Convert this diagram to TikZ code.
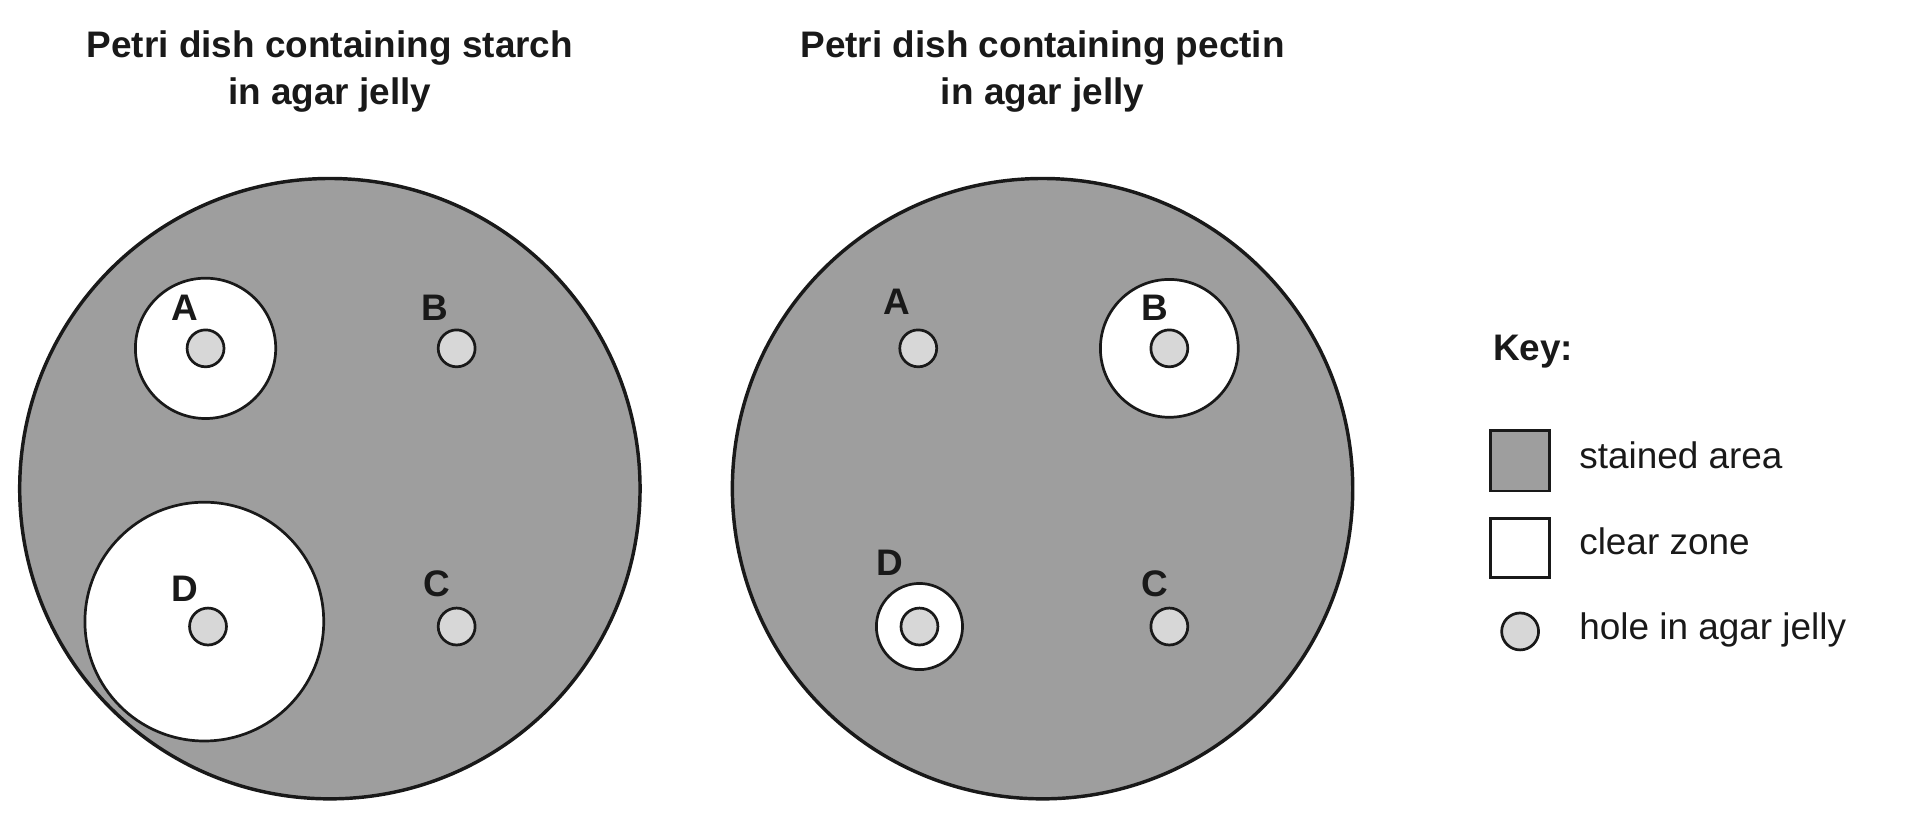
\documentclass[tikz,border=0pt]{standalone}
\usepackage{fontspec}
\setmainfont{Liberation Sans}
\definecolor{stain}{RGB}{158,158,158}
\definecolor{holegrey}{RGB}{215,215,215}
\tikzset{
  dish/.style={draw=black!90, line width=1.4pt, fill=stain},
  clear/.style={draw=black!90, line width=1.1pt, fill=white},
  hole/.style={circle, draw=black!90, line width=1.1pt, fill=holegrey, minimum size=15pt, inner sep=0pt},
  lab/.style={font=\fontsize{15}{15}\selectfont\bfseries, text=black!90},
  keytxt/.style={font=\fontsize{15}{15}\selectfont, text=black!90, anchor=west}
}
\begin{document}
\begin{tikzpicture}[x=0.5pt,y=-0.5pt]
\useasboundingbox (0,0) rectangle (1568,666);

% titles
\node[lab, align=center] (t1) at (268,58) {Petri dish containing starch\\[4pt]in agar jelly};
\node[lab, align=center] (t2) at (847,58) {Petri dish containing pectin\\[4pt]in agar jelly};

% starch dish
\draw[dish] (268,397) circle (252);
\draw[clear] (167,283) circle (57);
\draw[clear] (166,505) circle (97);
\node[hole] (sA) at (167,283) {};
\node[hole] (sB) at (371,283) {};
\node[hole] (sC) at (371,509) {};
\node[hole] (sD) at (169,509) {};
\node[lab] at (150,250) {A};
\node[lab] at (353,250) {B};
\node[lab] at (355,474) {C};
\node[lab] at (150,478) {D};

% pectin dish
\draw[dish] (847,397) circle (252);
\draw[clear] (950,283) circle (56);
\draw[clear] (747,509) circle (35);
\node[hole] (pA) at (746,283) {};
\node[hole] (pB) at (950,283) {};
\node[hole] (pC) at (950,509) {};
\node[hole] (pD) at (747,509) {};
\node[lab] at (729,245) {A};
\node[lab] at (938,250) {B};
\node[lab] at (938,474) {C};
\node[lab] at (723,457) {D};

% key
\node[lab, anchor=west] (key) at (1206,286) {Key:};
\draw[dish, line width=1.1pt] (1211,350) rectangle (1259,399);
\draw[clear] (1211,421) rectangle (1259,469);
\node[hole] (khole) at (1235,513) {};
\node[keytxt] at (1276,370) {stained area};
\node[keytxt] at (1276,440) {clear zone};
\node[keytxt] at (1276,512) {hole in agar jelly};
\end{tikzpicture}
\end{document}
